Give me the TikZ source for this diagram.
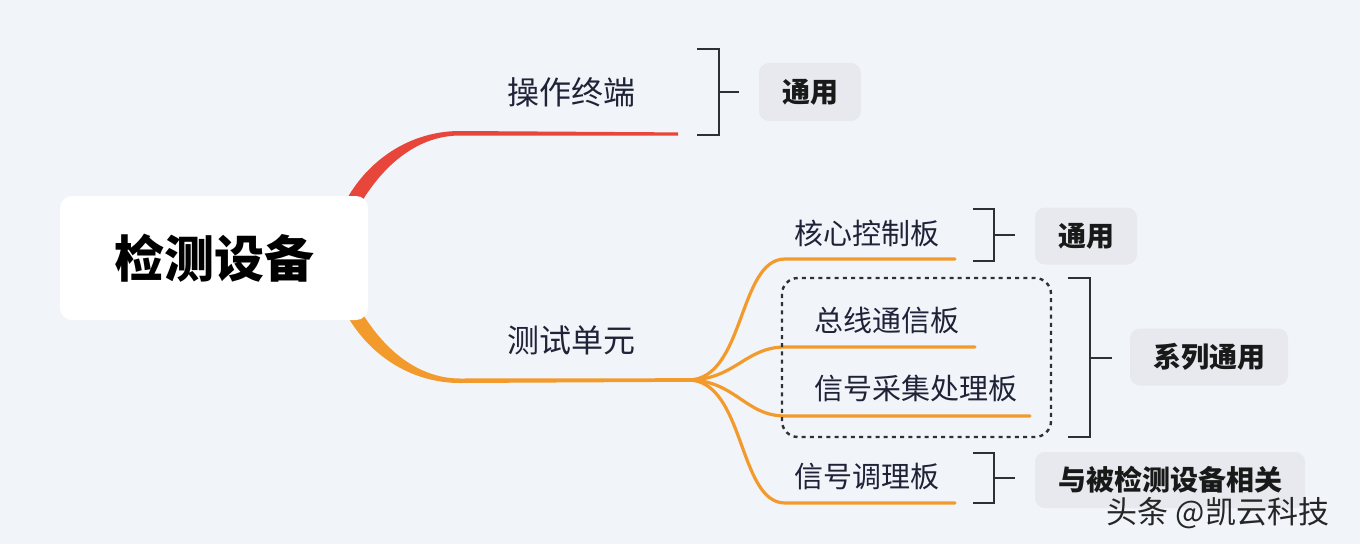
\documentclass[tikz,border=0pt]{standalone}
\usepackage{fontspec}
\setmainfont{Noto Sans CJK SC}
\definecolor{bgcol}{HTML}{F1F4F9}
\definecolor{navy}{HTML}{1F2337}
\definecolor{redbr}{HTML}{E8463A}
\definecolor{orangebr}{HTML}{F39A2C}
\definecolor{tagfill}{HTML}{E7E9EE}
\definecolor{brkcol}{HTML}{2E3035}
\begin{document}
\begin{tikzpicture}[x=1pt,y=-1pt,
  lbl/.style={text=navy,inner sep=0pt,font=\fontsize{32}{36}\selectfont},
  sublbl/.style={text=navy,inner sep=0pt,font=\fontsize{29}{33}\selectfont},
  tagbox/.style={fill=tagfill,rounded corners=10pt,inner sep=0pt,text=black!90,
    font=\bfseries\fontsize{28}{32}\selectfont},
  brk/.style={draw=brkcol,line width=2.6pt},
  sub/.style={draw=orangebr,line width=3.2pt,line cap=round}]
\fill[bgcol] (0,0) rectangle (1360,544);
\useasboundingbox (0,0) rectangle (1360,544);

% main branches
\coordinate (e1) at (678,134);
\coordinate (fan) at (688,380);
\fill[redbr] (344,204) .. controls (368,158) and (412,131) .. (460,131)
  -- ([yshift=1.6pt]e1) -- ([yshift=-1.6pt]e1)
  -- (460,135.5) .. controls (420,135.5) and (384,162) .. (358,208) -- cycle;
\fill[orangebr] (344,310) .. controls (368,356) and (412,383) .. (460,383)
  -- ([yshift=-1.8pt]fan) -- ([yshift=1.8pt]fan)
  -- (460,378.5) .. controls (420,378.5) and (384,352) .. (358,306) -- cycle;

% sub branches
\coordinate (e2) at (955,259);
\coordinate (e3) at (975,347);
\coordinate (e4) at (1030,416);
\coordinate (e5) at (955,503);
\draw[sub] (fan) .. controls (745,380) and (738,259) .. (785,259) -- (e2);
\draw[sub] (fan) .. controls (735,380) and (745,347) .. (785,347) -- (e3);
\draw[sub] (fan) .. controls (735,380) and (745,416) .. (785,416) -- (e4);
\draw[sub] (fan) .. controls (745,380) and (738,503) .. (785,503) -- (e5);

\node[fill=white,rounded corners=12pt,minimum width=308,minimum height=124,inner sep=0pt,
  font=\bfseries\fontsize{50}{56}\selectfont] (root) at (214,258) {检测设备};

\node[lbl] (t1) at (571,92) {操作终端};
\node[lbl] (t2) at (571,340) {测试单元};
\node[sublbl] (s1) at (867,233) {核心控制板};
\node[sublbl] (s2) at (887,320) {总线通信板};
\node[sublbl] (s3) at (916,388) {信号采集处理板};
\node[sublbl] (s4) at (867,477) {信号调理板};

\draw[brkcol,line width=2.4pt,dash pattern=on 4pt off 4.2pt,rounded corners=16pt]
  (782,278) rectangle (1051,437);

% brackets
\draw[brk] (697,49) -- (719,49) -- (719,135) -- (697,135);
\draw[brk] (719,92) -- (739,92);
\draw[brk] (973,209) -- (994,209) -- (994,261) -- (973,261);
\draw[brk] (994,235) -- (1015,235);
\draw[brk] (1068,278) -- (1090,278) -- (1090,437) -- (1068,437);
\draw[brk] (1090,358) -- (1112,358);
\draw[brk] (973,453) -- (994,453) -- (994,503) -- (973,503);
\draw[brk] (994,478) -- (1015,478);

\node[tagbox,minimum width=102,minimum height=58] (g1) at (810,92) {通用};
\node[tagbox,minimum width=102,minimum height=57] (g2) at (1086,236) {通用};
\node[tagbox,minimum width=158,minimum height=57] (g3) at (1209,357) {系列通用};
\node[tagbox,minimum width=270,minimum height=56] (g4) at (1170,480) {与被检测设备相关};

\node[text=black!85,font=\fontsize{31}{34}\selectfont] (wm) at (1218,513) {头条 @凯云科技};
\end{tikzpicture}
\end{document}
